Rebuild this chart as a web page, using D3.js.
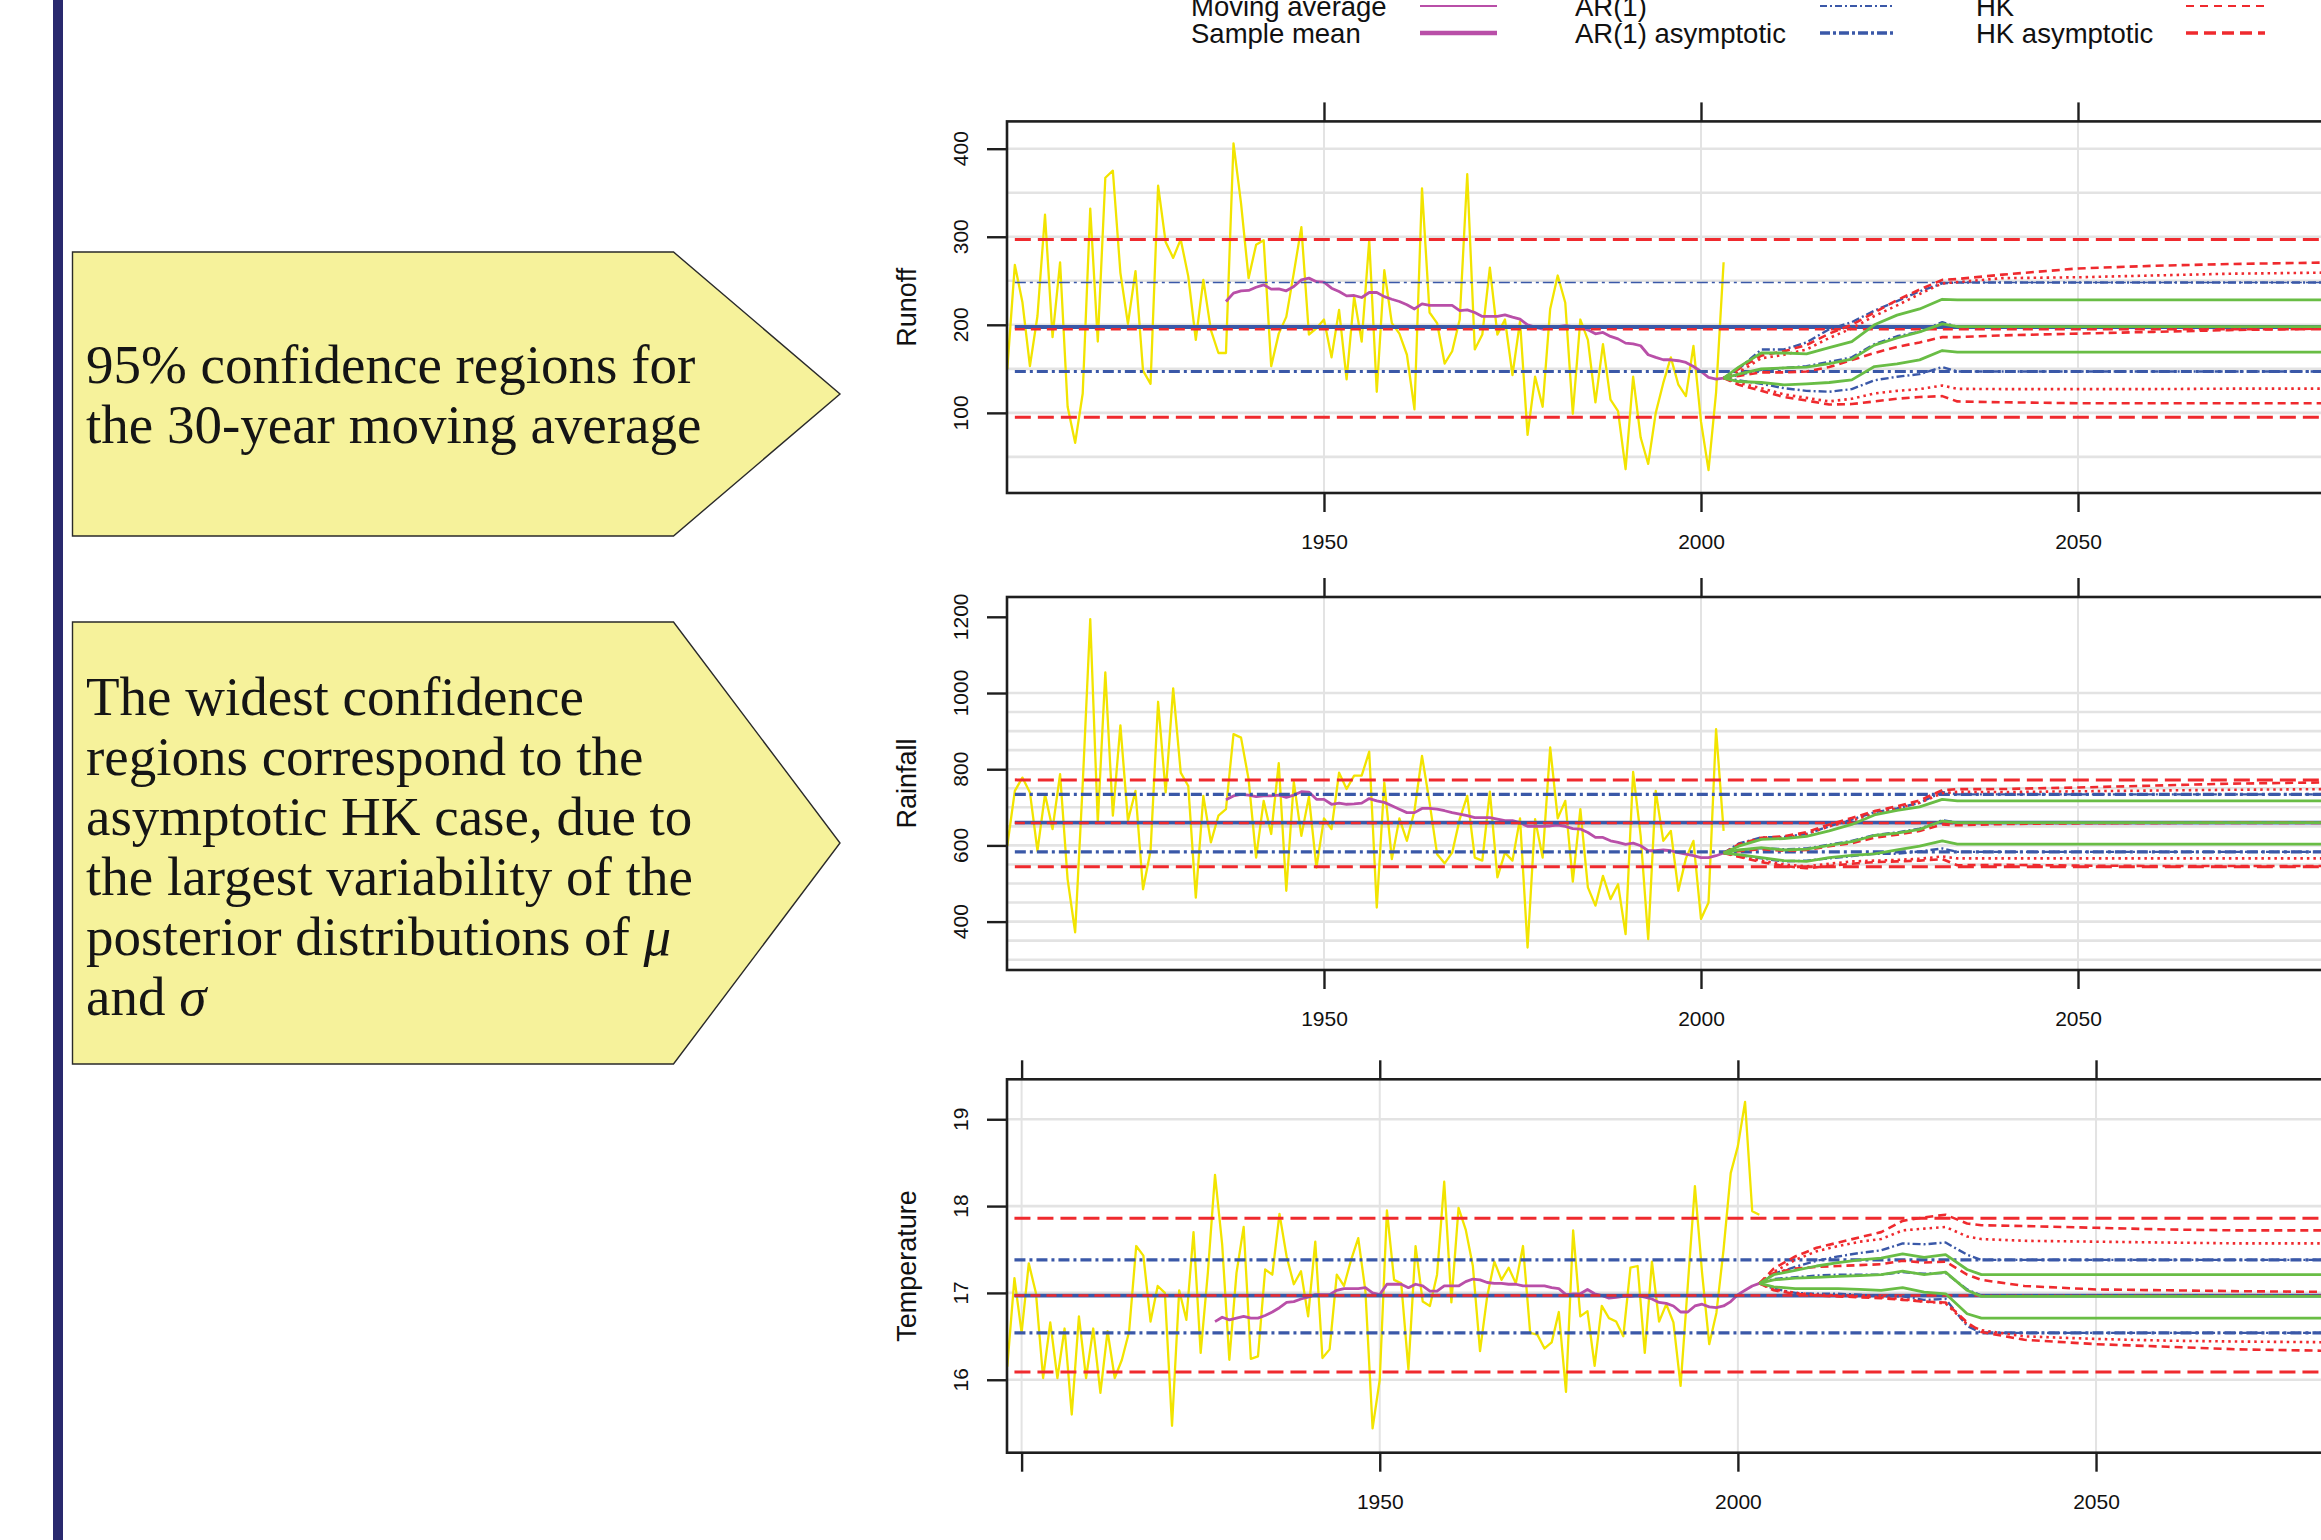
<!DOCTYPE html>
<html>
<head>
<meta charset="utf-8">
<script src="https://cdn.jsdelivr.net/npm/d3@7"></script>
<style>
  html, body { margin: 0; padding: 0; background: #fff; overflow: hidden; }
  svg { display: block; }
</style>
</head>
<body>
<svg id="fig" width="2321" height="1540"></svg>
<script>
// ---------------- observed series ----------------
const runoffStart = 1908;
const runoffObs = [
  150,268,226,153,210,325,186,271,107,66,
  122,332,181,367,375,259,201,261,148,133,
  358,294,276,297,255,183,251,194,168,168,
  406,338,253,291,296,153,190,209,259,311,
  189,196,206,163,217,138,232,181,296,124,
  262,202,190,166,104,355,214,202,156,170,
  206,371,172,189,265,189,206,143,204,75,
  141,107,218,256,225,99,206,183,112,178,
  115,102,36,141,72,42,100,134,163,132,
  119,176,90,35,123,271
];
const runoffMAStart = 1937;
const runoffMA = [
  226.5,236,238.6,239,242.7,245.4,240.5,240.8,238.6,243.5,
  251,253,249,248.4,241.6,237.8,232.9,233.3,231,236.7,
  236.7,232,229,226.5,222.7,218,223.8,222,222,222,
  222,216,217,214,209.5,209.5,209.5,211.3,208.7,206.4,
  200,197.4,195,196.2,198,199,198,197.4,194.3,189.8,
  191.3,186.8,184,179.2,178.4,176.2,166,163,160.3,160.3,
  159.2,157.3,152.7,147,140.3,138.4,139.5
];

const rainStart = 1908;
const rainObs = [
  599,743,778,739,586,734,643,787,511,372,
  760,1194,660,1054,678,915,665,743,485,586,
  977,739,1012,791,756,463,730,608,678,695,
  892,883,774,568,717,630,816,481,767,625,
  728,542,671,643,791,748,783,783,846,437,
  765,564,671,612,691,835,713,577,553,581,
  669,730,568,560,741,516,581,560,671,332,
  669,568,857,671,717,505,695,490,442,520,
  459,498,367,793,625,354,743,612,638,481,
  566,612,407,450,905,638
];
const rainMAStart = 1937;
const rainMA = [
  720,730,734,732,728,730,730,732,726,732,
  741,740,721,721,708,711,708,709,711,723,
  717,713,704,695,686,686,697,697,695,691,
  686,682,678,673,673,673,669,665,665,660,
  650,650,650,651,653,650,644,643,634,621,
  621,612,608,603,606,599,586,586,588,586,
  581,577,573,568,568,573,580
];

const tempStart = 1898;
const tempObs = [
  16.15,17.17,16.54,17.34,17.0,16.02,16.66,16.02,16.59,15.6,
  16.73,16.02,16.59,15.85,16.56,16.02,16.23,16.55,17.54,17.43,
  16.67,17.08,17.0,15.47,17.03,16.69,17.70,16.31,17.23,18.36,
  17.56,16.23,17.23,17.76,16.24,16.27,17.27,17.21,17.91,17.42,
  17.10,17.25,16.73,17.59,16.25,16.35,17.21,17.08,17.38,17.63,
  17.02,15.44,16.0,17.95,17.15,17.11,16.12,17.54,16.90,16.85,
  17.21,18.28,16.89,17.98,17.73,17.31,16.33,16.96,17.36,17.15,
  17.29,17.11,17.54,16.54,16.52,16.36,16.43,16.78,15.86,17.72,
  16.73,16.79,16.16,16.85,16.71,16.67,16.50,17.29,17.31,16.31,
  17.36,16.67,16.87,16.66,15.93,17.08,18.23,17.23,16.41,16.77,
  17.5,18.38,18.69,19.20,17.94,17.90
];
const tempMAStart = 1927;
const tempMA = [
  16.67,16.72,16.69,16.71,16.73,16.71,16.71,16.74,16.78,16.83,
  16.89,16.90,16.93,16.95,16.98,16.98,16.98,17.03,17.05,17.05,
  17.05,17.06,17.0,16.98,17.10,17.10,17.10,17.06,17.10,17.08,
  17.02,17.02,17.08,17.08,17.08,17.13,17.16,17.15,17.12,17.11,
  17.11,17.10,17.10,17.08,17.08,17.08,17.08,17.06,17.05,16.98,
  16.99,16.99,17.04,16.99,16.97,16.94,16.95,16.96,16.96,16.97,
  16.95,16.93,16.89,16.88,16.85,16.78,16.78,16.85,16.87,16.84,
  16.83,16.85,16.90,16.98,17.03,17.08,17.11
];

// ---------------- horizontal reference levels ----------------
// [HK asym low, AR(1) asym low, sample mean, AR(1) asym high, HK asym high]
const runoffLevels = [95, 147, 197.5, 248, 297];
const rainLevels = [544, 583, 660, 734, 772];
const tempLevels = [16.09, 16.54, 16.97, 17.38, 17.86];
const runoffHkMid = 195;
const rainHkMid = 659;
const tempHkMid = 16.97;

// ---------------- forecast quantile curves (2.5%, 50%, 97.5%) ----------------
const fcYears = [2003, 2005, 2008, 2011, 2014, 2017, 2020, 2023, 2026, 2029, 2032, 2034, 2040, 2050, 2060, 2070, 2085, 2110];

const runoffGreen = [
  [139.5,135.6,134.5,131.8,132.9,134.5,137.5,152.6,155.7,160.2,170.8,169,169,169,169,169,169,169],
  [139.5,144,150,151,152,156,161,177,185,192,201,198,198,198,198,198,198,198],
  [139.5,152,168,168,167,174,181,200,211,218,229,228.4,228.4,228.4,228.4,228.4,228.4,228.4]
];
const runoffAr = [
  [139.5,137,133,128,125,124,127,137,141,144,152,147,147,147,147,147,147,147],
  [139.5,143,149,151,153,158,163,178,187,192,203,197.5,197.5,197.5,197.5,197.5,197.5,197.5],
  [139.5,150,172,172,180,195,203,216,227,238,247,248,248,248,248,248,248,248]
];
const runoffHk = [
  [139.5,132,125,118,114,109.5,110,113,116,118,119,113,112,111,111,111,111,111],
  [139.5,142,146,146,147,152,160,168,175,180,186,186,188,190,192,194,196,196],
  [139.5,150,165,170,177,190,200,214,228,240,251,252,257,264,267,269,271,271]
];
const runoffHkDot = [
  [139.5,134,128,121,117,113,116,122,125,127,131,127.3,127,127,127,127.5,127.5,127.5],
  [139.5,146,162,166,172,185,196,210,222,235,247,248.5,253,254,256,258,259.5,259.5]
];

const rainGreen = [
  [580,576,568,560,558,568,574,578,588,598,612,603.5,603.5,603.5,603.5,603.5,603.5,603.5],
  [580,588,594,588,590,600,610,626,632,642,664,660,660,660,660,660,660,660],
  [580,598,616,618,624,638,655,680,692,701,721,717,717,717,717,717,717,717]
];
const rainAr = [
  [580,575,566,558,560,566,572,578,578,584,592,583,583,583,583,583,583,583],
  [580,587,593,590,592,602,612,627,634,644,666,660,660,660,660,660,660,660],
  [580,605,621,622,630,650,668,687,697,712,740,734,734,734,734,734,734,734]
];
const rainHk = [
  [580,570,556,546,540,546,552,556,558,560,564,548,549,547,546,546,546,546],
  [580,585,590,586,588,598,606,620,628,638,655,653,656,658,659,660,660,660],
  [580,603,620,624,635,655,672,690,703,718,745,747.6,748,752,757,762,766,766]
];
const rainHkDot = [
  [580,572,560,550,545,552,558,560,562,565,571,566,566,566,566,566,566,566],
  [580,600,617,620,630,650,665,683,697,712,737,740.6,740,742,744,746,748,748]
];

const tempGreen = [
  [17.11,17.07,17.05,17.05,17.05,17.04,17.03,17.06,17.01,16.99,16.76,16.71,16.71,16.71,16.71,16.71,16.71,16.71],
  [17.11,17.15,17.17,17.18,17.19,17.20,17.21,17.25,17.21,17.24,17.03,16.96,16.96,16.96,16.96,16.96,16.96,16.96],
  [17.11,17.21,17.26,17.31,17.35,17.38,17.40,17.45,17.41,17.44,17.27,17.21,17.21,17.21,17.21,17.21,17.21,17.21]
];
const tempAr = [
  [17.11,17.05,17.00,16.99,16.99,16.98,16.96,16.96,16.92,16.93,16.62,16.54,16.54,16.54,16.54,16.54,16.54,16.54],
  [17.11,17.16,17.18,17.20,17.21,17.21,17.21,17.24,17.22,17.23,17.04,16.97,16.97,16.97,16.97,16.97,16.97,16.97],
  [17.11,17.22,17.30,17.37,17.42,17.46,17.49,17.57,17.56,17.58,17.44,17.38,17.38,17.38,17.38,17.38,17.38,17.38]
];
const tempHk = [
  [17.11,17.03,16.99,16.97,16.96,16.95,16.94,16.92,16.90,16.89,16.66,16.55,16.46,16.41,16.38,16.35,16.33,16.33],
  [17.11,17.23,17.28,17.30,17.31,17.32,17.33,17.37,17.35,17.36,17.21,17.15,17.08,17.04,17.03,17.02,17.01,17.01],
  [17.11,17.28,17.42,17.52,17.58,17.64,17.70,17.83,17.87,17.90,17.80,17.78,17.77,17.75,17.73,17.72,17.72,17.72]
];
const tempHkDot = [
  [17.11,17.04,17.00,16.98,16.97,16.96,16.95,16.93,16.90,16.88,16.64,16.57,16.50,16.47,16.45,16.44,16.43,16.43],
  [17.11,17.24,17.38,17.48,17.54,17.59,17.62,17.72,17.74,17.76,17.65,17.62,17.60,17.59,17.58,17.57,17.57,17.57]
];

// ---------------- axis ticks and grid ----------------
const runoffTicks = [100, 200, 300, 400];
const runoffGrid = [50, 100, 150, 200, 250, 300, 350, 400];
const rainTicks = [400, 600, 800, 1000, 1200];
const rainGrid = [300, 350, 400, 450, 500, 550, 600, 650, 700, 750, 800, 850, 900, 950, 1000];
const tempTicks = [16, 17, 18, 19];
const tempGrid = [16, 17, 18, 19];
const yearTicksA = [1950, 2000, 2050, 2100];
const yearTicksB = [1900, 1950, 2000, 2050, 2100];
const yearLabels = [1950, 2000, 2050, 2100];

// ---------------- legend ----------------
const legendLabels = [
  ["Moving average", "Sample mean"],
  ["AR(1)", "AR(1) asymptotic"],
  ["HK", "HK asymptotic"]
];

// ---------------- side notes ----------------
const note1 = ["95% confidence regions for", "the 30-year moving average"];
const note2 = ["The widest confidence", "regions correspond to the", "asymptotic HK case, due to",
               "the largest variability of the", "posterior distributions of ", "and "];
const note2Symbols = ["\u03bc", "\u03c3"];

// ---------------- styling ----------------
const C = {
  yellow: "#f2e400", pink: "#b94fa8", red: "#ef2a2e", blue: "#3a58a8",
  green: "#69bd45", grid: "#e3e3e3", ink: "#1e1e1e"
};
const SANS = "'Liberation Sans', Arial, Helvetica, sans-serif";
const SERIF = "'Liberation Serif', 'Times New Roman', Times, serif";

const svg = d3.select("#fig");

// navy rule on the left edge
svg.append("rect").attr("x", 53).attr("y", 0).attr("width", 10).attr("height", 1540).attr("fill", "#29296e");

// arrow-shaped note boxes
function noteBox(top, bottom, lines, firstBaseline, symbols) {
  const l = 72.5, r = 673.5, tip = 840, mid = (top + bottom) / 2;
  svg.append("path")
    .attr("d", `M${l},${top}L${r},${top}L${tip},${mid}L${r},${bottom}L${l},${bottom}Z`)
    .attr("fill", "#f6f29b").attr("stroke", "#2a2a2a").attr("stroke-width", 1.4);
  const t = svg.append("text").attr("font-family", SERIF).attr("font-size", 55).attr("fill", "#151515");
  const offset = lines.length - (symbols ? symbols.length : 0);
  lines.forEach((s, i) => {
    t.append("tspan").attr("x", 86).attr("y", firstBaseline + i * 60).text(s);
    if (symbols && i >= offset) {
      t.append("tspan").attr("font-style", "italic").text(symbols[i - offset]);
    }
  });
}
noteBox(252, 536, note1, 383, null);
noteBox(622, 1064, note2, 715, note2Symbols);

// legend
const legendX = [1191, 1575, 1976];
const legendLineX = [[1420, 1497], [1820, 1895], [2186, 2265]];
const legendRowsY = [16, 43];
const legendStyles = [
  [{c: C.pink, w: 2.2, d: null}, {c: C.pink, w: 4.5, d: null}],
  [{c: C.blue, w: 2.2, d: "7,3,2,3"}, {c: C.blue, w: 3.6, d: "10,3,3,3"}],
  [{c: C.red, w: 2.2, d: "8,6"}, {c: C.red, w: 3.6, d: "12,6"}]
];
legendLabels.forEach((col, ci) => {
  col.forEach((lab, ri) => {
    svg.append("text").attr("x", legendX[ci]).attr("y", legendRowsY[ri])
      .attr("font-family", SANS).attr("font-size", 27.5).attr("fill", "#111").text(lab);
    const st = legendStyles[ci][ri];
    svg.append("line")
      .attr("x1", legendLineX[ci][0]).attr("x2", legendLineX[ci][1])
      .attr("y1", legendRowsY[ri] - 10).attr("y2", legendRowsY[ri] - 10)
      .attr("stroke", st.c).attr("stroke-width", st.w).attr("stroke-dasharray", st.d);
  });
});

// ---------------- panels ----------------
const panels = [
  { key: "runoff", title: "Runoff", obsStart: runoffStart, obs: runoffObs, maStart: runoffMAStart, ma: runoffMA,
    levels: runoffLevels, hkMid: runoffHkMid, green: runoffGreen, ar: runoffAr, hk: runoffHk, hkDot: runoffHkDot,
    yTicks: runoffTicks, yGrid: runoffGrid, xTicks: yearTicksA,
    top: 121.4, bottom: 493, yDomain: [9, 431], xDomain: [1907.96, 2110], xRange: [1007, 2530.4], arHiWidth: 1.6 },
  { key: "rain", title: "Rainfall", obsStart: rainStart, obs: rainObs, maStart: rainMAStart, ma: rainMA,
    levels: rainLevels, hkMid: rainHkMid, green: rainGreen, ar: rainAr, hk: rainHk, hkDot: rainHkDot,
    yTicks: rainTicks, yGrid: rainGrid, xTicks: yearTicksA,
    top: 597, bottom: 970, yDomain: [273, 1252], xDomain: [1907.96, 2110], xRange: [1007, 2530.4], arHiWidth: 3.2 },
  { key: "temp", title: "Temperature", obsStart: tempStart, obs: tempObs, maStart: tempMAStart, ma: tempMA,
    levels: tempLevels, hkMid: tempHkMid, green: tempGreen, ar: tempAr, hk: tempHk, hkDot: tempHkDot,
    yTicks: tempTicks, yGrid: tempGrid, xTicks: yearTicksB,
    top: 1079.3, bottom: 1452.7, yDomain: [15.16, 19.46], xDomain: [1897.96, 2110], xRange: [1007, 2525.8], arHiWidth: 3.2 }
];

const defs = svg.append("defs");

panels.forEach(p => {
  const x = d3.scaleLinear().domain(p.xDomain).range(p.xRange);
  const y = d3.scaleLinear().domain(p.yDomain).range([p.bottom, p.top]);
  const left = p.xRange[0], right = p.xRange[1];
  const line = d3.line().x(d => x(d[0])).y(d => y(d[1]));

  defs.append("clipPath").attr("id", "clip-" + p.key)
    .append("rect").attr("x", left).attr("y", p.top).attr("width", right - left).attr("height", p.bottom - p.top);

  const g = svg.append("g");
  const inner = g.append("g").attr("clip-path", `url(#clip-${p.key})`);

  // grid
  inner.selectAll(null).data(p.yGrid).join("line")
    .attr("x1", left).attr("x2", right).attr("y1", d => y(d)).attr("y2", d => y(d))
    .attr("stroke", C.grid).attr("stroke-width", 2.6);
  inner.selectAll(null).data(p.xTicks).join("line")
    .attr("x1", d => x(d)).attr("x2", d => x(d)).attr("y1", p.top).attr("y2", p.bottom)
    .attr("stroke", C.grid).attr("stroke-width", 2);

  // observed series
  const obsPts = p.obs.map((v, i) => [p.obsStart + i, v]);
  inner.append("path").attr("d", line(obsPts)).attr("fill", "none")
    .attr("stroke", C.yellow).attr("stroke-width", 2.3).attr("stroke-linejoin", "round");

  // 30-year moving average
  const maPts = p.ma.map((v, i) => [p.maStart + i, v]);
  inner.append("path").attr("d", line(maPts)).attr("fill", "none")
    .attr("stroke", C.pink).attr("stroke-width", 2.8).attr("stroke-linejoin", "round");

  // horizontal reference levels
  const x0 = p.obsStart + 1, x1 = p.xDomain[1];
  const hline = (v, stroke, w, dash) => inner.append("path")
    .attr("d", line([[x0, v], [x1, v]])).attr("fill", "none")
    .attr("stroke", stroke).attr("stroke-width", w).attr("stroke-dasharray", dash);
  const [hkLo, arLo, mean, arHi, hkHi] = p.levels;
  hline(mean, C.pink, 3, null);
  hline(mean, C.blue, 3.8, null);
  hline(p.hkMid, C.red, 2.6, "10,6");
  hline(arLo, C.blue, 3.2, "11,4,3,4");
  hline(arHi, C.blue, p.arHiWidth, "11,4,3,4");
  hline(hkLo, C.red, 3, "16,7");
  hline(hkHi, C.red, 3, "16,7");

  // forecast quantile curves
  const curve = (vals, stroke, w, dash) => inner.append("path")
    .attr("d", line(fcYears.map((yr, i) => [yr, vals[i]]))).attr("fill", "none")
    .attr("stroke", stroke).attr("stroke-width", w).attr("stroke-dasharray", dash)
    .attr("stroke-linejoin", "round");
  p.ar.forEach(v => curve(v, C.blue, 2.4, "8,3,2,3"));
  p.hkDot.forEach(v => curve(v, C.red, 2.6, "2.5,4"));
  p.hk.forEach(v => curve(v, C.red, 2.6, "8,5"));
  p.green.forEach(v => curve(v, C.green, 2.8, null));

  // frame
  g.append("rect").attr("x", left).attr("y", p.top).attr("width", right - left).attr("height", p.bottom - p.top)
    .attr("fill", "none").attr("stroke", C.ink).attr("stroke-width", 2.6);

  // axes
  const styleAxis = sel => {
    sel.select(".domain").remove();
    sel.selectAll(".tick line").attr("stroke", C.ink).attr("stroke-width", 2.4);
    sel.selectAll(".tick text").attr("font-family", SANS).attr("font-size", 21).attr("fill", "#111");
  };
  g.append("g").attr("transform", `translate(0,${p.bottom})`)
    .call(d3.axisBottom(x).tickValues(p.xTicks).tickSize(19).tickPadding(22)
      .tickFormat(d => yearLabels.includes(d) ? d3.format("d")(d) : ""))
    .call(styleAxis);
  g.append("g").attr("transform", `translate(0,${p.top})`)
    .call(d3.axisTop(x).tickValues(p.xTicks).tickSize(19).tickFormat(""))
    .call(styleAxis);
  g.append("g").attr("transform", `translate(${left},0)`)
    .call(d3.axisLeft(y).tickValues(p.yTicks).tickSize(20).tickFormat(""))
    .call(styleAxis);
  g.selectAll(null).data(p.yTicks).join("text")
    .attr("transform", d => `translate(960,${y(d)}) rotate(-90)`)
    .attr("text-anchor", "middle").attr("dominant-baseline", "central")
    .attr("font-family", SANS).attr("font-size", 21).attr("fill", "#111")
    .text(d => d);

  // axis title
  g.append("text")
    .attr("transform", `translate(907,${(p.top + p.bottom) / 2}) rotate(-90)`)
    .attr("text-anchor", "middle").attr("dominant-baseline", "central")
    .attr("font-family", SANS).attr("font-size", 27).attr("fill", "#111")
    .text(p.title);
});
</script>
</body>
</html>
